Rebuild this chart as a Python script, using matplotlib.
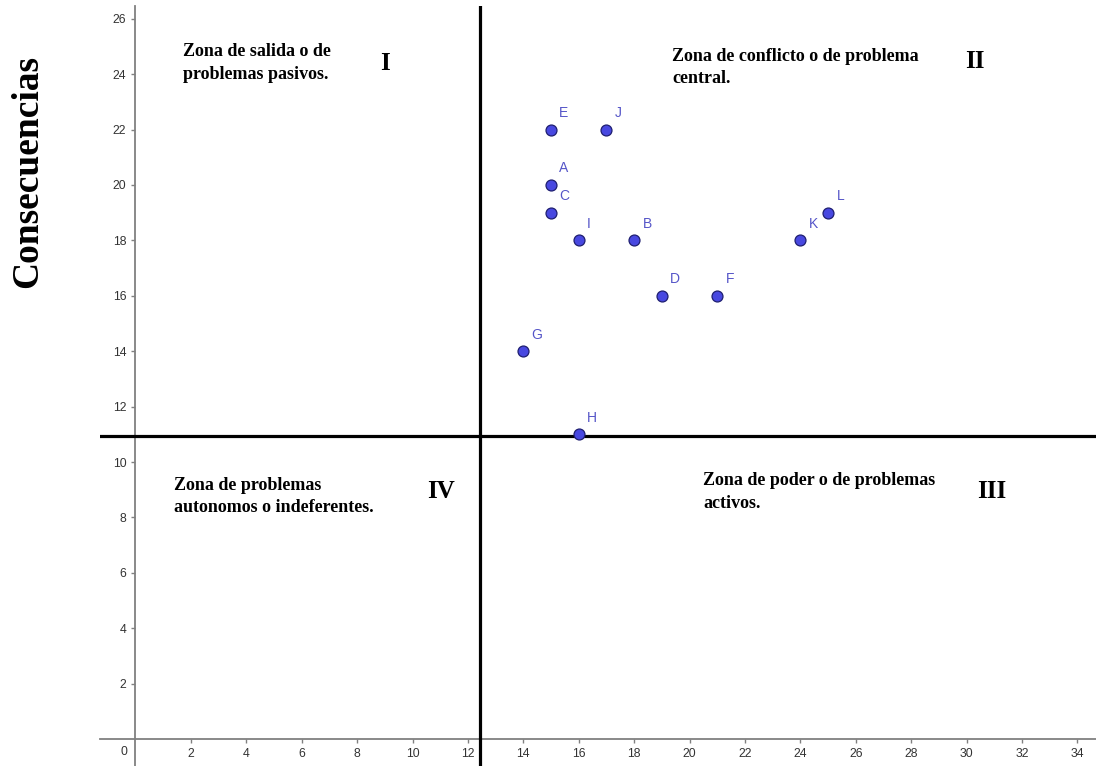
import matplotlib.pyplot as plt

# problem points (influence, consecuencias)
labels = ['A', 'B', 'C', 'D', 'E', 'F', 'G', 'H', 'I', 'J', 'K', 'L']
xs = [15, 18, 15, 19, 15, 21, 14, 16, 16, 17, 24, 25]
ys = [20, 18, 19, 16, 22, 16, 14, 11, 18, 22, 18, 19]

# quadrant split lines
x_split = 12.45
y_split = 10.95

zone_texts = ['Zona de salida o de\nproblemas pasivos.',
              'Zona de conflicto o de problema\ncentral.',
              'Zona de poder o de problemas\nactivos.',
              'Zona de problemas\nautonomos o indeferentes.']
zone_nums = ['I', 'II', 'III', 'IV']

xticks = list(range(2, 35, 2))
yticks = list(range(2, 27, 2))

fig = plt.figure(figsize=(10.96, 7.66), dpi=100)
ax = fig.add_axes([100 / 1096, 0, 1 - 100 / 1096, 1 - 6 / 766])
ax.set_xlim(-1.28, 34.67)
ax.set_ylim(-0.97, 26.46)

for s in ['top', 'right']:
    ax.spines[s].set_visible(False)
for s in ['left', 'bottom']:
    ax.spines[s].set_position(('data', 0))
    ax.spines[s].set_color('#808080')
    ax.spines[s].set_linewidth(1.3)

ax.set_xticks(xticks)
ax.set_yticks(yticks)
ax.tick_params(colors='#808080', length=3, width=1, labelcolor='#333333',
               labelsize=8.8)
for t in ax.get_xticklabels() + ax.get_yticklabels():
    t.set_family('Liberation Sans')
ax.text(-0.4, -0.45, '0', ha='center', va='center', fontsize=8.8,
        color='#333333', family='Liberation Sans')

ax.axvline(x_split, color='black', lw=2.3, zorder=3)
ax.axhline(y_split, color='black', lw=2.3, zorder=3)

ax.scatter(xs, ys, s=62, color='#4848E0', edgecolors='#1E1E70',
           linewidths=0.9, zorder=5)
for lab, x, y in zip(labels, xs, ys):
    ax.annotate(lab, (x, y), xytext=(6, 9), textcoords='offset points',
                color='#5555C8', fontsize=10, family='Liberation Sans')

serif = 'Liberation Serif'
ax.text(1.7, 24.4, zone_texts[0], ha='left', va='center', fontsize=13,
        fontweight='bold', family=serif, linespacing=1.4)
ax.text(19.37, 24.25, zone_texts[1], ha='left', va='center', fontsize=13,
        fontweight='bold', family=serif, linespacing=1.4)
ax.text(20.49, 8.92, zone_texts[2], ha='left', va='center', fontsize=13,
        fontweight='bold', family=serif, linespacing=1.4)
ax.text(1.39, 8.77, zone_texts[3], ha='left', va='center', fontsize=13,
        fontweight='bold', family=serif, linespacing=1.4)

ax.text(9.0, 24.4, zone_nums[0], ha='center', va='center', fontsize=18,
        fontweight='bold', family=serif)
ax.text(30.3, 24.45, zone_nums[1], ha='center', va='center', fontsize=18,
        fontweight='bold', family=serif)
ax.text(30.92, 8.92, zone_nums[2], ha='center', va='center', fontsize=18,
        fontweight='bold', family=serif)
ax.text(11.03, 8.92, zone_nums[3], ha='center', va='center', fontsize=18,
        fontweight='bold', family=serif)

fig.text(28 / 1096, 1 - 171 / 766, 'Consecuencias', rotation=90,
         ha='center', va='center', fontsize=27, fontweight='bold', family=serif)

fig.savefig('out.png', dpi=100)
